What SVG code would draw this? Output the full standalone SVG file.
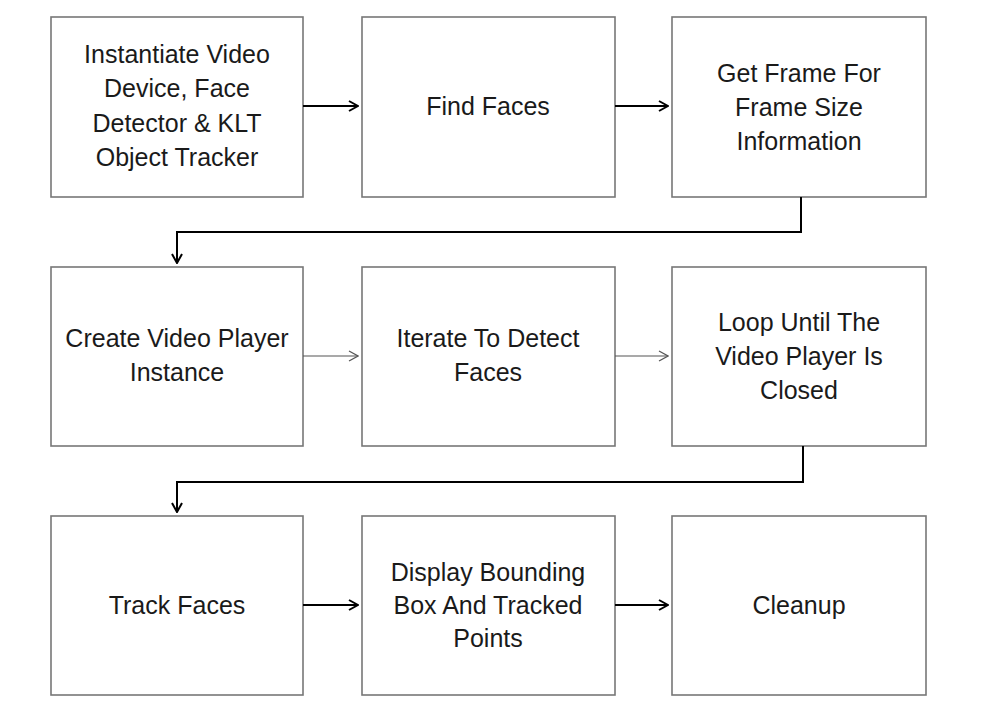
<svg xmlns="http://www.w3.org/2000/svg" width="991" height="726" viewBox="0 0 991 726">
<defs>
<marker id="ah" viewBox="0 0 12 12" refX="11" refY="6" markerWidth="12" markerHeight="12" markerUnits="userSpaceOnUse" orient="auto">
<path d="M2,1 L11,6 L2,11" fill="none" stroke="#000" stroke-width="2"/>
</marker>
<marker id="ahl" viewBox="0 0 12 12" refX="11" refY="6" markerWidth="12" markerHeight="12" markerUnits="userSpaceOnUse" orient="auto">
<path d="M2,1 L11,6 L2,11" fill="none" stroke="#555" stroke-width="1.2"/>
</marker>
</defs>
<style>
.box{fill:#fff;stroke:#777;stroke-width:1.6}
.t{font-family:"Liberation Sans",Arial,sans-serif;font-size:25px;fill:#1a1a1a;text-anchor:middle}
.c{fill:none;stroke:#000;stroke-width:2}
.cl{fill:none;stroke:#555;stroke-width:1.2}
</style>
<rect width="991" height="726" fill="#fff"/>
<g id="n1"><rect class="box" x="51" y="17" width="252" height="180"/><text class="t" x="177"><tspan x="177" y="63">Instantiate Video</tspan><tspan x="177" y="97">Device, Face</tspan><tspan x="177" y="132">Detector &amp; KLT</tspan><tspan x="177" y="166">Object Tracker</tspan></text></g>
<g id="n2"><rect class="box" x="362" y="17" width="253" height="180"/><text class="t" x="488" y="115">Find Faces</text></g>
<g id="n3"><rect class="box" x="672" y="17" width="254" height="180"/><text class="t"><tspan x="799" y="82">Get Frame For</tspan><tspan x="799" y="116">Frame Size</tspan><tspan x="799" y="150">Information</tspan></text></g>
<g id="n4"><rect class="box" x="51" y="267" width="252" height="179"/><text class="t"><tspan x="177" y="347">Create Video Player</tspan><tspan x="177" y="381">Instance</tspan></text></g>
<g id="n5"><rect class="box" x="362" y="267" width="253" height="179"/><text class="t"><tspan x="488" y="347">Iterate To Detect</tspan><tspan x="488" y="381">Faces</tspan></text></g>
<g id="n6"><rect class="box" x="672" y="267" width="254" height="179"/><text class="t"><tspan x="799" y="331">Loop Until The</tspan><tspan x="799" y="365">Video Player Is</tspan><tspan x="799" y="399">Closed</tspan></text></g>
<g id="n7"><rect class="box" x="51" y="516" width="252" height="179"/><text class="t" x="177" y="614">Track Faces</text></g>
<g id="n8"><rect class="box" x="362" y="516" width="253" height="179"/><text class="t"><tspan x="488" y="581">Display Bounding</tspan><tspan x="488" y="614">Box And Tracked</tspan><tspan x="488" y="647">Points</tspan></text></g>
<g id="n9"><rect class="box" x="672" y="516" width="254" height="179"/><text class="t" x="799" y="614">Cleanup</text></g>
<g id="connectors">
<path class="c" d="M303,106 H358" marker-end="url(#ah)"/>
<path class="c" d="M615,106 H668" marker-end="url(#ah)"/>
<path class="c" d="M801,197 V232 H177 V263" marker-end="url(#ah)"/>
<path class="cl" d="M303,356 H358" marker-end="url(#ahl)"/>
<path class="cl" d="M615,356 H668" marker-end="url(#ahl)"/>
<path class="c" d="M803,446 V482 H177 V512" marker-end="url(#ah)"/>
<path class="c" d="M303,605 H358" marker-end="url(#ah)"/>
<path class="c" d="M615,605 H668" marker-end="url(#ah)"/>
</g>
</svg>
